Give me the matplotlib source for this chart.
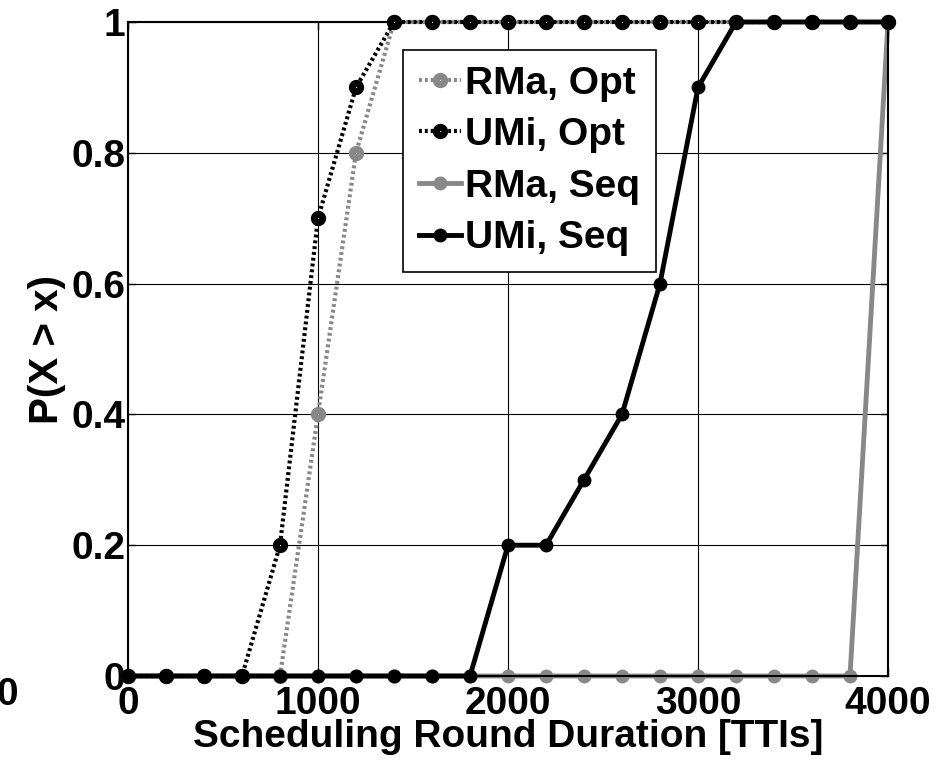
import numpy as np
import matplotlib.pyplot as plt

plt.rcParams['font.family'] = ['Liberation Sans', 'DejaVu Sans']
plt.rcParams['font.weight'] = 'bold'

x = np.arange(0, 4001, 200)

rma_opt = [0, 0, 0, 0, 0, 0.4, 0.8, 1, 1, 1, 1, 1, 1, 1, 1, 1, 1, 1, 1, 1, 1]
umi_opt = [0, 0, 0, 0, 0.2, 0.7, 0.9, 1, 1, 1, 1, 1, 1, 1, 1, 1, 1, 1, 1, 1, 1]
rma_seq = [0, 0, 0, 0, 0, 0, 0, 0, 0, 0, 0, 0, 0, 0, 0, 0, 0, 0, 0, 0, 1]
umi_seq = [0, 0, 0, 0, 0, 0, 0, 0, 0, 0, 0.2, 0.2, 0.3, 0.4, 0.6, 0.9, 1, 1, 1, 1, 1]

gray = '#888888'

fig = plt.figure(figsize=(9.39, 7.62), dpi=100)
ax = fig.add_axes([128/939, 1 - 676/762, (888-128)/939, (676-22)/762])

ax.plot(x, rma_opt, color=gray, lw=3, dashes=(0.7, 0.7), marker='o', ms=6,
        mfc='white', mec=gray, mew=5, label='RMa, Opt', zorder=3, clip_on=False)
ax.plot(x, umi_opt, color='black', lw=3, dashes=(0.7, 0.7), marker='o', ms=6,
        mfc='white', mec='black', mew=5, label='UMi, Opt', zorder=4, clip_on=False)
ax.plot(x, rma_seq, '-', color=gray, lw=3.5, marker='o', ms=9,
        mfc=gray, mec=gray, label='RMa, Seq', zorder=2, clip_on=False)
ax.plot(x, umi_seq, '-', color='black', lw=3.5, marker='o', ms=9,
        mfc='black', mec='black', label='UMi, Seq', zorder=5, clip_on=False)

ax.set_xlim(0, 4000)
ax.set_ylim(0, 1)
ax.set_xticks([0, 1000, 2000, 3000, 4000])
ax.set_yticks([0, 0.2, 0.4, 0.6, 0.8, 1])
ax.set_yticklabels(['0', '0.2', '0.4', '0.6', '0.8', '1'])
ax.grid(True, color='black', lw=0.8)
ax.tick_params(direction='in', length=6, width=1, labelsize=28, right=True, top=True)
ax.tick_params(axis='x', pad=7)
ax.tick_params(axis='y', pad=2)
for lab in ax.get_xticklabels() + ax.get_yticklabels():
    lab.set_fontweight('bold')
for s in ax.spines.values():
    s.set_linewidth(1.5)

ax.set_xlabel('Scheduling Round Duration [TTIs]', fontsize=28, fontweight='bold', labelpad=-2)
ax.set_ylabel('P(X > x)', fontsize=29, fontweight='bold', labelpad=4)

leg = ax.legend(loc='upper left', bbox_to_anchor=((403-128)/760, 1 - (50-22)/654),
                prop={'weight': 'bold', 'size': 28}, handlelength=1.1,
                handletextpad=0.1, borderpad=0.4, labelspacing=0.4,
                fancybox=False, framealpha=1, edgecolor='black', borderaxespad=0)
leg.get_frame().set_linewidth(1.2)
leg.set_zorder(10)

fig.text(-0.004, 1 - 695/762, '0', fontsize=28, fontweight='bold', va='center')

fig.savefig('out.png', dpi=100)
